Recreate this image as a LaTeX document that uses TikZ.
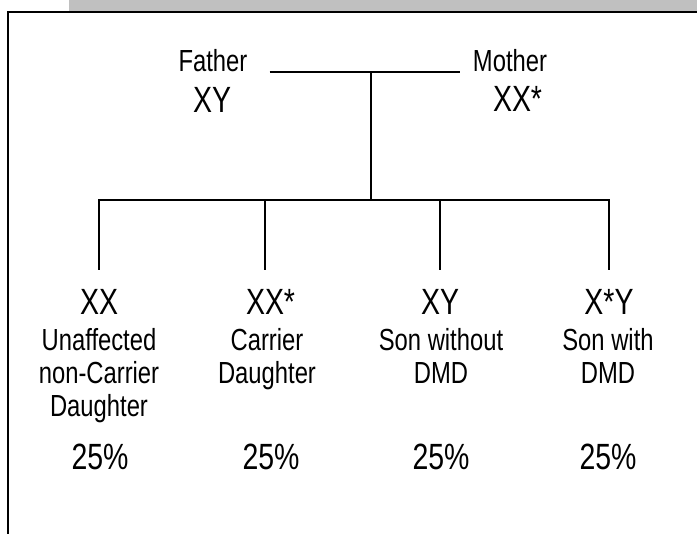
\documentclass[tikz,border=0pt]{standalone}
\usepackage{fontspec}
\setmainfont{Liberation Sans}[FakeStretch=0.78]
\usepackage{tikz}
\usetikzlibrary{positioning}
\definecolor{bargray}{RGB}{192,192,192}

\begin{document}
\begin{tikzpicture}[x = 1pt, y = -1pt,
  big/.style = {inner sep = 0pt, anchor = base, font = \fontsize{36.5}{42}\selectfont},
  small/.style = {inner sep = 0pt, align = center, font = \fontsize{30.5}{33}\selectfont},
  tree/.style = {line width = 2pt},
  frame/.style = {line width = 2.4pt}]
\useasboundingbox (0, 0) rectangle (697, 534);
%\draw [help lines, step = 50] (0, 0) grid (697, 534);
\fill [bargray] (69, 0) rectangle (697, 11);
\draw [frame] (8, 534) -- (8, 12) -- (697, 12);
% parents
\node (father) [small, anchor = base] at (213, 72) {Father};
\node (fatherg) [big] at (212, 113) {XY};
\node (mother) [small, anchor = base] at (510, 72) {Mother};
\node (motherg) [big] at (512, 112) {XX\rlap{*}};
% children
\node (g1) [big] at (99, 315) {XX};
\node (g2) [big] at (265, 315) {XX\rlap{*}};
\node (g3) [big] at (440, 315) {XY};
\node (g4) [big] at (609, 315) {X*Y};
\node (d1) [small, anchor = north] at (99, 328) {Unaffected\\non-Carrier\\Daughter};
\node (d2) [small, anchor = north] at (267, 328) {Carrier\\Daughter};
\node (d3) [small, anchor = north] at (441, 328) {Son without\\DMD};
\node (d4) [small, anchor = north] at (608, 328) {Son with\\DMD};
\node (p1) [big] at (100, 470) {25\%};
\node (p2) [big] at (271, 470) {25\%};
\node (p3) [big] at (441, 470) {25\%};
\node (p4) [big] at (608, 470) {25\%};
% lines
\coordinate (mate) at (371, 72);
\coordinate (sib) at (371, 200);
\draw [tree] ([xshift = 22pt]father.base east) -- ([xshift = -13pt]mother.base west);
\draw [tree] (mate) -- (sib);
\draw [tree] (g1 |- 0, 270) |- (sib) -| (g4 |- 0, 270);
\foreach \k in {2, 3}
  \draw [tree] (sib -| g\k) -- (g\k |- 0, 270);
\end{tikzpicture}
\end{document}
